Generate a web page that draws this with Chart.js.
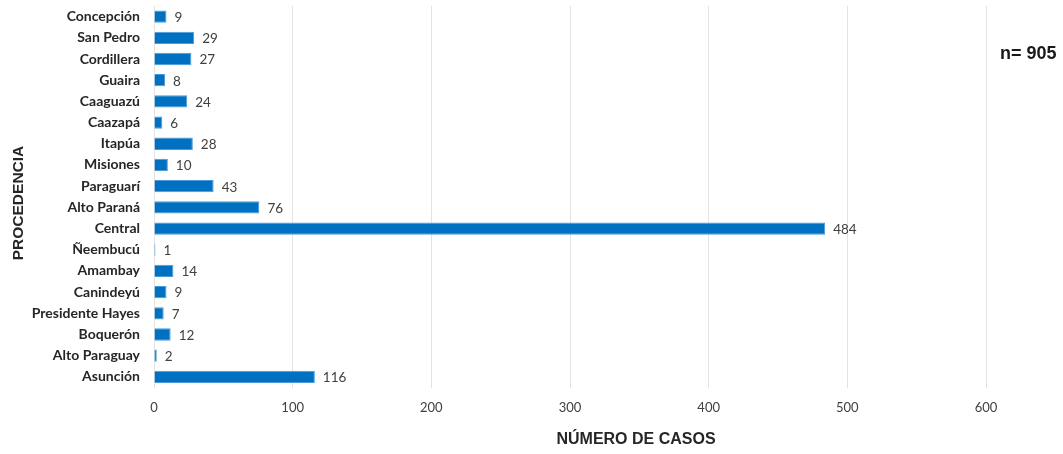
<!DOCTYPE html>
<html>
<head>
<meta charset="utf-8">
<script src="https://cdn.jsdelivr.net/npm/chart.js@4/dist/chart.umd.min.js"></script>
<style>
  html, body { margin: 0; padding: 0; background: #fff; }
  #wrap { width: 1063px; height: 454px; }
</style>
</head>
<body>
<div id="wrap"><canvas id="chart" width="1063" height="454"></canvas></div>
<script>
const departamentos = [
  'Concepción', 'San Pedro', 'Cordillera', 'Guaira', 'Caaguazú', 'Caazapá',
  'Itapúa', 'Misiones', 'Paraguarí', 'Alto Paraná', 'Central', 'Ñeembucú',
  'Amambay', 'Canindeyú', 'Presidente Hayes', 'Boquerón', 'Alto Paraguay', 'Asunción'
]
const casos = [9, 29, 27, 8, 24, 6, 28, 10, 43, 76, 484, 1, 14, 9, 7, 12, 2, 116]
const xTicks = [0, 100, 200, 300, 400, 500, 600]
const totalLabel = 'n= 905'
const xTitle = 'NÚMERO DE CASOS'
const yTitle = 'PROCEDENCIA'

const labelFont = 'Lato, "Open Sans", sans-serif'
const titleFont = '"Liberation Sans", Arial, sans-serif'

// value labels at the end of each bar
const valueLabels = {
  id: 'valueLabels',
  afterDatasetsDraw(chart) {
    const ctx = chart.ctx
    const meta = chart.getDatasetMeta(0)
    ctx.save()
    ctx.font = '13.5px ' + labelFont
    ctx.fillStyle = '#404040'
    ctx.textAlign = 'left'
    ctx.textBaseline = 'middle'
    meta.data.forEach((bar, i) => {
      ctx.fillText(String(casos[i]), bar.x + 8, bar.y + 1)
    })
    ctx.restore()
  }
}

// axis titles and the n= note
const extraText = {
  id: 'extraText',
  afterDraw(chart) {
    const ctx = chart.ctx
    ctx.save()
    ctx.fillStyle = '#262626'
    ctx.textAlign = 'center'
    ctx.textBaseline = 'middle'
    ctx.font = 'bold 16px ' + titleFont
    ctx.fillText(xTitle, 636, 440)

    ctx.font = 'bold 15.5px ' + titleFont
    ctx.translate(19, 203)
    ctx.rotate(-Math.PI / 2)
    ctx.fillText(yTitle, 0, 0)
    ctx.restore()

    ctx.save()
    ctx.fillStyle = '#1a1a1a'
    ctx.font = 'bold 18px ' + titleFont
    ctx.textAlign = 'left'
    ctx.textBaseline = 'alphabetic'
    ctx.fillText(totalLabel, 1000, 59)
    ctx.restore()
  }
}

new Chart(document.getElementById('chart'), {
  type: 'bar',
  data: {
    labels: departamentos,
    datasets: [{
      data: casos,
      backgroundColor: '#0070C0',
      borderColor: '#4A9BDB',
      borderWidth: 1,
      barPercentage: 0.58,
      categoryPercentage: 1,
    }]
  },
  options: {
    indexAxis: 'y',
    responsive: false,
    animation: false,
    layout: { padding: { left: 0, right: 77, top: 6, bottom: 0 } },
    plugins: {
      legend: { display: false },
      tooltip: { enabled: false },
    },
    scales: {
      x: {
        min: 0,
        max: 600,
        afterFit: s => { s.height = 66.5; s.paddingLeft = 0; s.paddingRight = 0 },
        afterBuildTicks: s => { s.ticks = xTicks.map(v => ({ value: v })) },
        grid: { color: '#e3e3e3', drawTicks: false },
        border: { display: false },
        ticks: {
          padding: 13,
          color: '#404040',
          font: { family: labelFont, size: 13 },
        },
      },
      y: {
        afterFit: s => { s.width = 154; s.paddingTop = 0; s.paddingBottom = 0 },
        grid: { display: false, drawTicks: false },
        border: { display: false },
        ticks: {
          padding: 14,
          color: '#262626',
          autoSkip: false,
          font: { family: labelFont, size: 14, weight: 'bold' },
        },
      }
    }
  },
  plugins: [valueLabels, extraText]
})
</script>
</body>
</html>
